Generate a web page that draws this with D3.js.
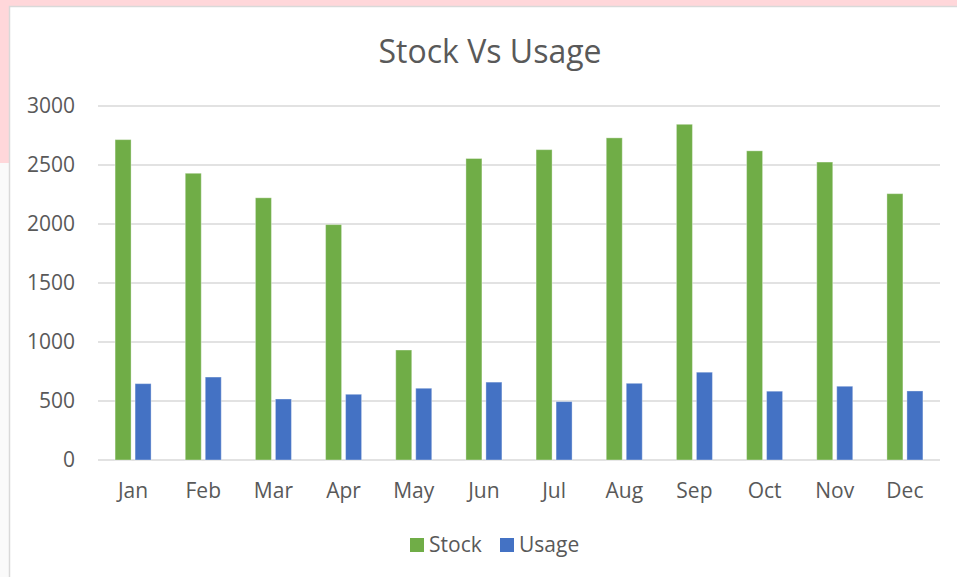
<!DOCTYPE html>
<html>
<head>
<meta charset="utf-8">
<script src="https://cdn.jsdelivr.net/npm/d3@7.9.0/dist/d3.min.js"></script>
<style>
  body { margin: 0; background: #fff; }
  svg { display: block; font-family: "Open Sans", sans-serif; }
</style>
</head>
<body>
<svg id="chart"></svg>
<script>
const months = ["Jan", "Feb", "Mar", "Apr", "May", "Jun", "Jul", "Aug", "Sep", "Oct", "Nov", "Dec"];
const stock = [2715, 2430, 2222, 1995, 932, 2555, 2630, 2730, 2845, 2620, 2525, 2257];
const usage = [647, 703, 517, 557, 608, 660, 495, 650, 744, 583, 625, 585];
const yTicks = [0, 500, 1000, 1500, 2000, 2500, 3000];
const seriesNames = ["Stock", "Usage"];

const W = 957, H = 577;
const svg = d3.select("#chart").attr("width", W).attr("height", H);

// page background behind the chart box
svg.append("rect").attr("width", W).attr("height", H).attr("fill", "#fafafa");
svg.append("rect").attr("width", W).attr("height", 163).attr("fill", "#ffd7da");

// chart box
svg.append("rect")
    .attr("x", 9.5).attr("y", 6.5)
    .attr("width", W + 10).attr("height", H + 10)
    .attr("fill", "#fff")
    .attr("stroke", "#d9d9d9")
    .attr("stroke-width", 1.5);

const plot = { left: 98, right: 940, top: 106, bottom: 460 };

const x = d3.scaleBand()
    .domain(months)
    .range([plot.left, plot.right])
    .paddingInner(0)
    .paddingOuter(0);

const y = d3.scaleLinear()
    .domain([0, 3000])
    .range([plot.bottom, plot.top]);

const colors = d3.scaleOrdinal()
    .domain(seriesNames)
    .range(["#70ad47", "#4472c4"]);

// cluster layout inside each band
const barW = 16, barGap = 4;
const clusterW = barW * 2 + barGap;
const sub = d3.scaleOrdinal()
    .domain(seriesNames)
    .range([0, barW + barGap]);

// gridlines
svg.append("g")
    .selectAll("line")
    .data(yTicks)
    .enter()
    .append("line")
    .attr("x1", plot.left)
    .attr("x2", plot.right)
    .attr("y1", d => y(d))
    .attr("y2", d => y(d))
    .attr("stroke", "#d9d9d9")
    .attr("stroke-width", 1.5);

// y labels
svg.append("g")
    .selectAll("text")
    .data(yTicks)
    .enter()
    .append("text")
    .attr("x", 75)
    .attr("y", d => y(d))
    .attr("dy", "0.35em")
    .attr("text-anchor", "end")
    .style("font-size", "21px")
    .attr("fill", "#595959")
    .text(d => d);

// bars
const rows = months.map((m, i) => ({ month: m, Stock: stock[i], Usage: usage[i] }));

svg.append("g")
    .selectAll("g")
    .data(rows)
    .enter()
    .append("g")
    .attr("transform", d => `translate(${x(d.month) + (x.bandwidth() - clusterW) / 2},0)`)
    .selectAll("rect")
    .data(d => seriesNames.map(key => ({ key, value: d[key] })))
    .enter()
    .append("rect")
    .attr("x", d => sub(d.key))
    .attr("y", d => y(d.value))
    .attr("width", barW)
    .attr("height", d => y(0) - y(d.value))
    .attr("fill", d => colors(d.key))
    .attr("stroke", "#ffffff")
    .attr("stroke-opacity", 0.35)
    .attr("stroke-width", 1);

// x labels
svg.append("g")
    .selectAll("text")
    .data(months)
    .enter()
    .append("text")
    .attr("x", d => x(d) + x.bandwidth() / 2)
    .attr("y", 498)
    .attr("text-anchor", "middle")
    .style("font-size", "21px")
    .attr("fill", "#595959")
    .text(d => d);

// title
svg.append("text")
    .attr("x", 490)
    .attr("y", 63)
    .attr("text-anchor", "middle")
    .style("font-size", "32px")
    .attr("fill", "#595959")
    .text("Stock Vs Usage");

// legend
const legendX = [410, 500];
const legend = svg.append("g");

legend.selectAll("rect")
    .data(seriesNames)
    .enter()
    .append("rect")
    .attr("x", (d, i) => legendX[i])
    .attr("y", 538)
    .attr("width", 14)
    .attr("height", 14)
    .attr("fill", d => colors(d));

legend.selectAll("text")
    .data(seriesNames)
    .enter()
    .append("text")
    .attr("x", (d, i) => legendX[i] + 19)
    .attr("y", 552)
    .style("font-size", "21px")
    .attr("fill", "#595959")
    .text(d => d);
</script>
</body>
</html>
